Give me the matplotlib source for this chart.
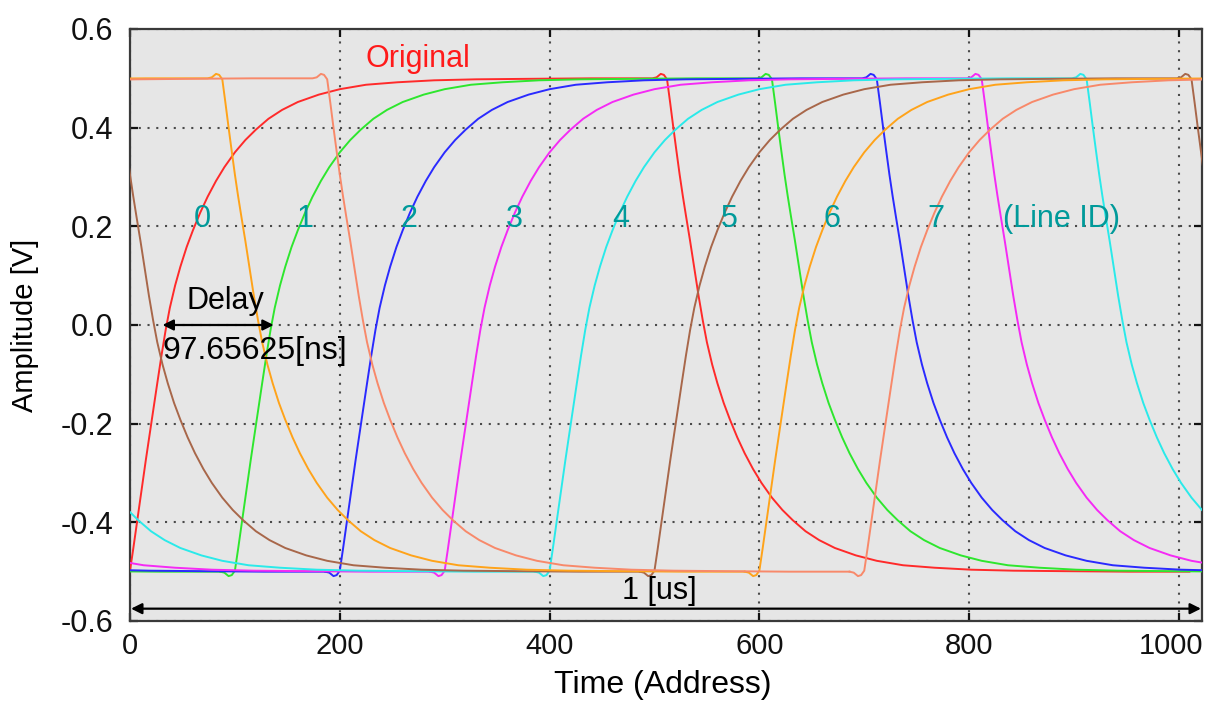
import numpy as np
import matplotlib
matplotlib.use("Agg")
import matplotlib.pyplot as plt
import matplotlib.transforms as mtransforms

plt.rcParams["font.family"] = ["Liberation Sans", "DejaVu Sans"]
plt.rcParams["axes.unicode_minus"] = False

# ------------------------------------------------------------------
# data
# ------------------------------------------------------------------
PERIOD = 1024          # 1 [us] in address units
HALF = 512             # falling edge comes half a period after the rising one
LINE_IDS = [0, 1, 2, 3, 4, 5, 6, 7]
DELAYS = [0, 100, 200, 300, 400, 500, 600, 700]   # rising edge position of each line
COLORS = ["#ff2a2a", "#2ee62e", "#2a2aff", "#f52af5",
          "#2aeaea", "#a8674a", "#ffa31a", "#f8896a"]

# rising edge shape, offset from edge start (address) -> amplitude [V]
RISE_T = [-14, -10, -6, -3, 0, 3, 6, 9, 12, 15, 18, 22, 26, 30, 34, 38, 43, 48,
          54, 60, 67, 74, 82, 90, 100, 110, 120, 132, 145, 160, 180, 200, 225,
          255, 290, 330, 380, 440, 498]
RISE_V = [-0.500, -0.502, -0.509, -0.507, -0.498, -0.455, -0.410, -0.365, -0.320,
          -0.275, -0.232, -0.175, -0.118, -0.062, -0.010, 0.035, 0.080, 0.118,
          0.158, 0.192, 0.228, 0.260, 0.292, 0.320, 0.350, 0.375, 0.396, 0.418,
          0.436, 0.452, 0.467, 0.478, 0.487, 0.492, 0.496, 0.498, 0.499, 0.500,
          0.500]
# falling edge shape (mirror of the rise), offset from fall start
FALL_T = [-14, -10, -6, -3, 0, 3, 6, 9, 12, 15, 18, 22, 26, 30, 34, 38, 43, 48,
          54, 60, 67, 74, 82, 90, 100, 110, 120, 132, 145, 160, 180, 200, 225,
          255, 290, 330, 380, 440, 498]
FALL_V = [0.500, 0.502, 0.509, 0.507, 0.498, 0.450, 0.400, 0.352, 0.305,
          0.262, 0.222, 0.170, 0.115, 0.060, 0.010, -0.035, -0.080, -0.118,
          -0.158, -0.192, -0.228, -0.260, -0.292, -0.320, -0.350, -0.375, -0.396,
          -0.418, -0.436, -0.452, -0.467, -0.478, -0.487, -0.492, -0.496, -0.498,
          -0.499, -0.500, -0.500]

ID_X = [69, 167, 266, 366, 468, 571, 669, 768]
X_TICKS = [0, 200, 400, 600, 800, 1000]
Y_TICKS = [-0.6, -0.4, -0.2, 0.0, 0.2, 0.4, 0.6]

# ------------------------------------------------------------------
fig = plt.figure(figsize=(12.1, 7.02), dpi=100)
ax = fig.add_axes([130 / 1210, 81 / 702, 1072 / 1210, 592 / 702])
ax.set_facecolor("#e6e6e6")

cycle_t = np.concatenate([np.array(RISE_T), np.array(FALL_T) + HALF])
cycle_v = np.concatenate([np.array(RISE_V), np.array(FALL_V)])

for d, c in zip(DELAYS, COLORS):
    # draw the periodic wave twice so it covers the whole window
    for shift in (-PERIOD, 0):
        ax.plot(cycle_t + d + shift, cycle_v, color=c, lw=1.4, zorder=3)

ax.set_xlim(0, 1022)
ax.set_ylim(-0.6, 0.6)
ax.set_xticks(X_TICKS)
ax.set_yticks(Y_TICKS)
ax.set_yticklabels([f"{v:.1f}" for v in Y_TICKS])

ax.grid(True, color="#4a4a4a", lw=1.5, linestyle=(0, (1, 3.2)), zorder=1)
ax.tick_params(direction="in", length=6, width=1.6, top=True, right=True,
               colors="#111111")
ax.tick_params(axis="y", pad=12, labelsize=22)
ax.tick_params(axis="x", pad=8, labelsize=21)
for sp in ax.spines.values():
    sp.set_color("#3a3a3a")
    sp.set_linewidth(1.6)

# last x label sits right at the figure edge; nudge it left a little
last = ax.get_xticklabels()[-1]
last.set_transform(last.get_transform() +
                   mtransforms.ScaledTranslation(-8 / 100, 0, fig.dpi_scale_trans))

ax.set_xlabel("Time (Address)", fontsize=23)
ax.xaxis.set_label_coords(0.497, -0.083)
ax.set_ylabel("Amplitude [V]", fontsize=21)
ax.yaxis.set_label_coords(-0.085, 0.5)

# annotations
ax.text(274, 0.54, "Original", color="#ff1a1a", fontsize=22, ha="center", va="center")
for lid, xi in zip(LINE_IDS, ID_X):
    ax.text(xi, 0.215, str(lid), color="#009a9a", fontsize=22, ha="center", va="center")
ax.text(888, 0.215, "(Line ID)", color="#009a9a", fontsize=22, ha="center", va="center")

ax.annotate("", xy=(137, 0.0), xytext=(31, 0.0),
            arrowprops=dict(arrowstyle="<|-|>", color="black", lw=1.6,
                            mutation_scale=16, shrinkA=0, shrinkB=0), zorder=5)
ax.text(91, 0.048, "Delay", fontsize=22, ha="center", va="center")
ax.text(119, -0.053, "97.65625[ns]", fontsize=23, ha="center", va="center")

ax.annotate("", xy=(1021, -0.575), xytext=(1, -0.575),
            arrowprops=dict(arrowstyle="<|-|>", color="black", lw=1.6,
                            mutation_scale=16, shrinkA=0, shrinkB=0), zorder=5)
ax.text(505, -0.54, "1 [us]", fontsize=22, ha="center", va="center")

fig.savefig("out.png", dpi=100)
